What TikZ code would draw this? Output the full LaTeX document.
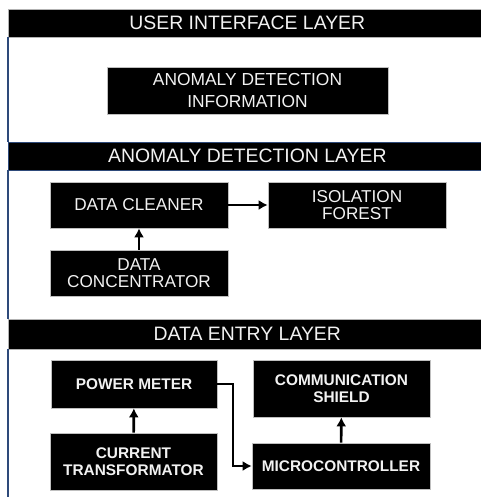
\documentclass[tikz,border=0pt]{standalone}
\usepackage{fontspec}
\setmainfont{Liberation Sans}
\usepackage{tikz}
\usetikzlibrary{arrows.meta,positioning}

\definecolor{framecol}{HTML}{2E4A7A}
\definecolor{textcol}{HTML}{F2F2F2}

\begin{document}
\begin{tikzpicture}[x=1pt, y=-1pt, >={Latex[length=9pt,width=10pt]},
    layerbar/.style={fill=black, draw=gray!60, line width=0.6pt, text=textcol, anchor=west,
        minimum width=478pt, inner sep=0pt, font=\fontsize{19.4}{22}\selectfont},
    block/.style={fill=black, draw=gray!50, line width=0.6pt, text=textcol, align=center,
        inner sep=0pt, font=\fontsize{17.2}{17}\selectfont},
    dblock/.style={block, font=\fontsize{15.4}{16.7}\selectfont\bfseries},
    flow/.style={->, line width=2.6pt}]
    \useasboundingbox (0,0) rectangle (480,497);

    % Layers {uibar, adbar, debar}
    \node [layerbar, minimum height=28pt]               (uibar) at (8,23)  {USER INTERFACE LAYER};
    \node [layerbar, minimum height=28pt, draw=framecol] (adbar) at (8,156) {ANOMALY DETECTION LAYER};
    \node [layerbar, minimum height=30pt]               (debar) at (8,334) {DATA ENTRY LAYER};
    \draw [framecol, line width=1.2pt] (uibar.south west) -- (adbar.north west);
    \draw [framecol, line width=1.2pt] (adbar.south west) -- (debar.north west);
    \draw [framecol, line width=1.2pt] (debar.south west) -- ++(0,160);

    % Nodes {info, clean, forest, conc, meter, shield, ct, mcu}
    \node [block, minimum width=281pt, minimum height=47pt, font=\fontsize{17.4}{22.7}\selectfont]
                        (info)   at (247.5,90.5) {ANOMALY DETECTION\\INFORMATION};
    \node [block, minimum width=178pt, minimum height=46pt] (clean)  at (139,205)   {DATA CLEANER};
    \node [block, minimum width=178pt, minimum height=46pt] (forest) at (357,205)   {ISOLATION\\FOREST};
    \node [block, minimum width=178pt, minimum height=46pt] (conc)   at (139,273)   {DATA\\CONCENTRATOR};
    \node [dblock, minimum width=166pt, minimum height=48pt] (meter)  at (134,384)   {POWER METER};
    \node [dblock, minimum width=177pt, minimum height=57pt] (shield) at (341.5,388.5) {COMMUNICATION\\SHIELD};
    \node [dblock, minimum width=167pt, minimum height=57pt] (ct)     at (133.5,461.5) {CURRENT\\TRANSFORMATOR};
    \node [dblock, minimum width=178pt, minimum height=46pt] (mcu)    at (341,466)   {MICROCONTROLLER};

    % Paths
    \draw [flow] (clean) -- (forest);
    \draw [flow] (conc) -- (clean);
    \draw [flow] (ct) -- (meter);
    \draw [flow] (mcu) -- (shield);
    \draw [flow, line width=2pt] (meter.east) -- ++(16,0) |- (mcu.west);

\end{tikzpicture}
\end{document}
